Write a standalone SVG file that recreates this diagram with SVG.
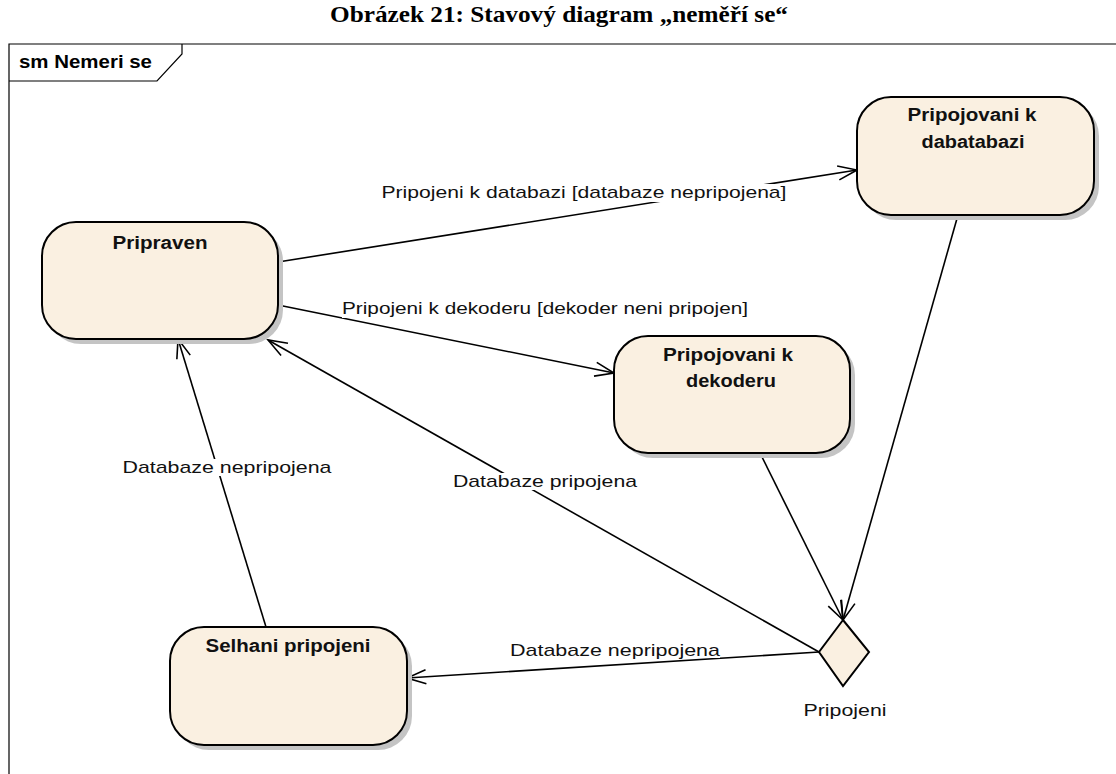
<svg xmlns="http://www.w3.org/2000/svg" width="1116" height="774" viewBox="0 0 1116 774">
  <defs>
    <marker id="open" viewBox="-20 -10 22 20" refX="0" refY="0" markerWidth="22" markerHeight="20" markerUnits="userSpaceOnUse" orient="auto">
      <path d="M-19,-7 L0,0 L-19,7" fill="none" stroke="#000" stroke-width="1.6"/>
    </marker>
  </defs>
  <style>
    .title { font-family: "Liberation Serif", "Times New Roman", serif; font-weight: bold; font-size: 24px; fill: #000; }
    .frame { fill: none; stroke: #000; stroke-width: 1.2; }
    .frame-label { font-family: "Liberation Sans", Arial, sans-serif; font-weight: bold; font-size: 18px; fill: #000; }
    .shadow { fill: #c4c4c4; }
    .state { fill: #faf0e1; stroke: #000; stroke-width: 2; }
    .state-name { font-family: "Liberation Sans", Arial, sans-serif; font-weight: bold; font-size: 18px; fill: #111; text-anchor: middle; }
    .edge { fill: none; stroke: #000; stroke-width: 1.6; marker-end: url(#open); }
    .edge-label { font-family: "Liberation Sans", Arial, sans-serif; font-size: 17px; fill: #111; text-anchor: middle; }
    .label-bg { fill: #fff; }
  </style>

  <rect width="1116" height="774" fill="#fff"/>

  <text class="title" x="559" y="22" text-anchor="middle" textLength="458" lengthAdjust="spacingAndGlyphs">Obrázek 21: Stavový diagram „neměří se“</text>

  <!-- state machine frame -->
  <g id="frame">
    <path class="frame" d="M9,774 V44 H1116"/>
    <path class="frame" d="M9,81 H157 L182,54 V44"/>
    <text class="frame-label" x="19" y="68" textLength="133" lengthAdjust="spacingAndGlyphs">sm Nemeri se</text>
  </g>

  <!-- transitions -->
  <g id="connectors">
    <path class="edge" d="M278,262 L857,170"/>
    <path class="edge" d="M278,305 L614,373"/>
    <path class="edge" d="M958,215 L843,620"/>
    <path class="edge" d="M760,453 L843,620"/>
    <path class="edge" d="M819,652 L407,678"/>
    <path class="edge" d="M819,652 L268,340"/>
    <path class="edge" d="M266,627 L178,339"/>

    <rect class="label-bg" x="382" y="184" width="405" height="18"/>
    <text class="edge-label" x="584" y="198" textLength="405" lengthAdjust="spacingAndGlyphs">Pripojeni k databazi [databaze nepripojena]</text>
    <rect class="label-bg" x="342" y="300" width="406" height="18"/>
    <text class="edge-label" x="545" y="314" textLength="406" lengthAdjust="spacingAndGlyphs">Pripojeni k dekoderu [dekoder neni pripojen]</text>
    <rect class="label-bg" x="122" y="459" width="209" height="17"/>
    <text class="edge-label" x="227" y="473" textLength="209" lengthAdjust="spacingAndGlyphs">Databaze nepripojena</text>
    <rect class="label-bg" x="453" y="473" width="184" height="17"/>
    <text class="edge-label" x="545" y="487" textLength="184" lengthAdjust="spacingAndGlyphs">Databaze pripojena</text>
    <rect class="label-bg" x="510" y="642" width="210" height="16"/>
    <text class="edge-label" x="615" y="656" textLength="210" lengthAdjust="spacingAndGlyphs">Databaze nepripojena</text>
  </g>

  <g id="pripraven">
    <rect class="shadow" x="47" y="227" width="236" height="117" rx="34"/>
    <rect class="state" x="42" y="222" width="236" height="117" rx="34"/>
    <text class="state-name" x="160" y="249" textLength="95" lengthAdjust="spacingAndGlyphs">Pripraven</text>
  </g>

  <g id="pripojovani-databaze">
    <rect class="shadow" x="862" y="102" width="237" height="118" rx="34"/>
    <rect class="state" x="857" y="97" width="237" height="118" rx="34"/>
    <text class="state-name" x="972" y="121" textLength="129" lengthAdjust="spacingAndGlyphs">Pripojovani k</text>
    <text class="state-name" x="973" y="148" textLength="103" lengthAdjust="spacingAndGlyphs">dabatabazi</text>
  </g>

  <g id="pripojovani-dekoder">
    <rect class="shadow" x="619" y="341" width="236" height="117" rx="34"/>
    <rect class="state" x="614" y="336" width="236" height="117" rx="34"/>
    <text class="state-name" x="728" y="361" textLength="130" lengthAdjust="spacingAndGlyphs">Pripojovani k</text>
    <text class="state-name" x="731" y="387" textLength="90" lengthAdjust="spacingAndGlyphs">dekoderu</text>
  </g>

  <g id="selhani">
    <rect class="shadow" x="175" y="632" width="237" height="118" rx="34"/>
    <rect class="state" x="170" y="627" width="237" height="118" rx="34"/>
    <text class="state-name" x="288" y="652" textLength="165" lengthAdjust="spacingAndGlyphs">Selhani pripojeni</text>
  </g>

  <g id="pripojeni-choice">
    <path class="state" d="M843,620 L869,652 L843,686 L819,652 Z" stroke-width="1.8"/>
    <text class="edge-label" x="845" y="716" textLength="83" lengthAdjust="spacingAndGlyphs">Pripojeni</text>
  </g>
</svg>
